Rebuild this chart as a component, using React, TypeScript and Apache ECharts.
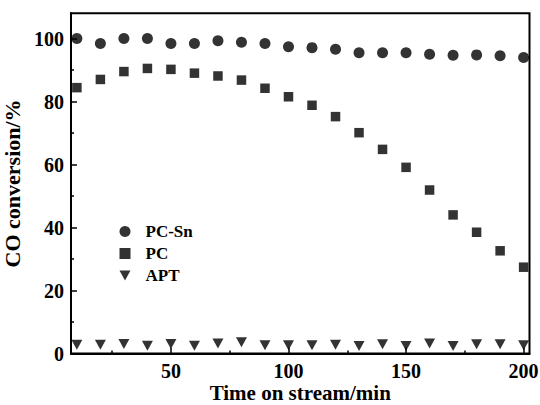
import React, { useEffect, useRef } from "react";
import * as echarts from "echarts";

const timeMin = [10, 20, 30, 40, 50, 60, 70, 80, 90, 100, 110, 120, 130, 140, 150, 160, 170, 180, 190, 200];
const pcSn = [100, 98.4, 100, 100, 98.4, 98.4, 99.3, 98.8, 98.4, 97.4, 97.1, 96.6, 95.5, 95.5, 95.5, 95.0, 94.7, 94.8, 94.5, 94.0];
const pc = [84.4, 87.0, 89.5, 90.5, 90.2, 89.0, 88.1, 86.8, 84.2, 81.5, 78.8, 75.2, 70.1, 64.8, 59.1, 51.9, 44.0, 38.5, 32.6, 27.4];
const apt = [2.8, 2.8, 3.0, 2.5, 3.0, 2.5, 3.2, 3.6, 2.6, 2.6, 2.6, 2.8, 2.4, 2.9, 2.4, 3.2, 2.4, 2.9, 2.9, 2.6];

const xMajor = [50, 100, 150, 200];
const xMinor = [25, 75, 125, 175];
const yMajor = [0, 20, 40, 60, 80, 100];
const yMinor = [10, 30, 50, 70, 90];

const FONT = "Liberation Serif";
const DOWN_TRI = "path://M0,0 L11,0 L5.5,10 Z";

export default function App() {
  const ref = useRef<HTMLDivElement>(null);
  useEffect(() => {
    if (!ref.current) return;
    const chart = echarts.init(ref.current, null, { renderer: "svg" });
    const pair = (ys: number[]) => timeMin.map((t, i) => [t, ys[i]]);
    const axisLine = { show: true, onZero: false, lineStyle: { color: "#000", width: 2 } };
    const xBase = { type: "value", min: 7.5, max: 202.5, position: "bottom", splitLine: { show: false } };
    const yBase = { type: "value", min: 0, max: 108, position: "left", splitLine: { show: false } };
    const labelStyle = { color: "#000", fontFamily: FONT, fontWeight: "bold", fontSize: 20 };
    chart.setOption({
      animation: false,
      backgroundColor: "#fff",
      textStyle: { fontFamily: FONT },
      grid: {
        left: 71, right: 10.5, top: 13.3, bottom: 51.5,
        show: true, borderColor: "#000", borderWidth: 2,
        containLabel: false, outerBoundsMode: "none",
      },
      legend: {
        orient: "vertical",
        left: 114.5,
        top: 218,
        itemWidth: 11,
        itemHeight: 11,
        itemGap: 5,
        textStyle: { color: "#000", fontFamily: FONT, fontWeight: "bold", fontSize: 17, lineHeight: 17, padding: [0, 0, 0, 10] },
        data: [
          { name: "PC-Sn", icon: "circle" },
          { name: "PC", icon: "path://M0,0 L9,0 L9,9 L0,9 Z" },
          { name: "APT", icon: DOWN_TRI },
        ],
      },
      xAxis: [
        {
          ...xBase,
          name: "Time on stream/min",
          nameLocation: "middle",
          nameGap: 29,
          nameMoveOverlap: false,
          nameTextStyle: { ...labelStyle, fontSize: 21 },
          axisLine,
          axisTick: { show: true, inside: true, length: 6, customValues: xMajor, lineStyle: { color: "#000", width: 1.5 } },
          axisLabel: { ...labelStyle, margin: 7, customValues: xMajor },
        },
        {
          ...xBase,
          axisLine: { show: false, onZero: false },
          axisTick: { show: true, inside: true, length: 3, customValues: xMinor, lineStyle: { color: "#000", width: 1.5 } },
          axisLabel: { show: false },
        },
      ],
      yAxis: [
        {
          ...yBase,
          name: "CO conversion/%",
          nameLocation: "middle",
          nameGap: 37,
          nameTextStyle: { ...labelStyle, fontSize: 22 },
          axisLine,
          axisTick: { show: true, inside: true, length: 6, customValues: yMajor, lineStyle: { color: "#000", width: 1.5 } },
          axisLabel: { ...labelStyle, margin: 7, customValues: yMajor },
        },
        {
          ...yBase,
          axisLine: { show: false, onZero: false },
          axisTick: { show: true, inside: true, length: 3, customValues: yMinor, lineStyle: { color: "#000", width: 1.5 } },
          axisLabel: { show: false },
        },
      ],
      series: [
        {
          name: "PC-Sn", type: "scatter", xAxisIndex: 0, yAxisIndex: 0,
          symbol: "circle", symbolSize: 11, itemStyle: { color: "#000" },
          data: pair(pcSn),
        },
        {
          name: "PC", type: "scatter", xAxisIndex: 0, yAxisIndex: 0,
          symbol: "rect", symbolSize: 9.5, itemStyle: { color: "#000" },
          data: pair(pc),
        },
        {
          name: "APT", type: "scatter", xAxisIndex: 0, yAxisIndex: 0,
          symbol: "triangle", symbolRotate: 180, symbolSize: [11, 10], itemStyle: { color: "#000" },
          data: pair(apt),
        },
      ],
    });
    return () => chart.dispose();
  }, []);
  return <div ref={ref} style={{ position: "fixed", left: 0, top: 0, width: 540, height: 405 }} />;
}
